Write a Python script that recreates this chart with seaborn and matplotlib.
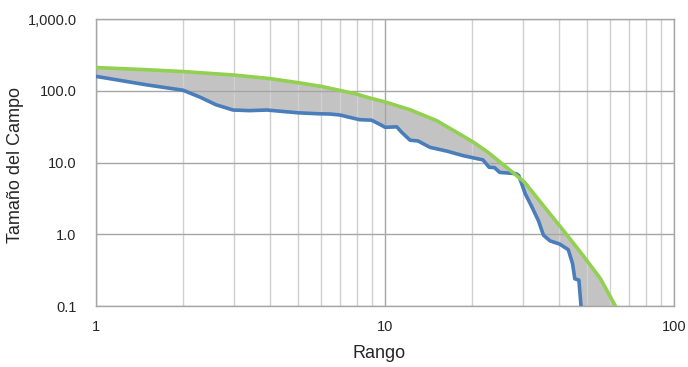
import seaborn as sns
import pandas as pd
import matplotlib.pyplot as plt
from matplotlib.ticker import NullFormatter

# Datos (rango vs tamaño del campo)
rank_green = [1, 1.5, 2.03, 3, 4, 5, 6.04, 7.08, 7.98, 8.8, 10, 12.2, 15.1, 18.1, 20.3, 22.7,
              26.3, 30.4, 35.3, 41.6, 48.5, 55.6, 62.6]
size_green = [211, 197, 185, 166, 148, 130, 115, 100, 90, 80, 70, 54.5, 38.3, 25, 19, 13.9,
              8.6, 5.3, 2.5, 1.1, 0.5, 0.24, 0.1]

rank_blue = [1, 1.5, 2, 2.3, 2.6, 2.98, 3.4, 3.9, 5.0, 5.8, 6.45, 7.0, 7.37, 8.17, 8.98, 9.6,
             10.0, 10.97, 11.4, 12.2, 13.0, 14.3, 16.4, 18.6, 21.8, 22.9, 23.9, 24.9, 28.4,
             29.0, 30.5, 32.2, 33.9, 35.3, 37.2, 40.2, 43.0, 44.5, 45.3, 46.8, 47.6]
size_blue = [159, 121, 102, 81, 64, 54, 53, 54, 49.4, 48, 47.5, 46, 43.6, 39.6, 39, 34,
             31, 31.5, 26.5, 20.5, 20, 16.3, 14.4, 12.5, 10.9, 8.6, 8.5, 7.3, 7.0,
             6.6, 3.7, 2.4, 1.55, 0.97, 0.81, 0.73, 0.61, 0.39, 0.24, 0.23, 0.1]

yticks = [0.1, 1, 10, 100, 1000]
ytick_labels = ['0.1', '1.0', '10.0', '100.0', '1,000.0']
xticks = [1, 10, 100]
xtick_labels = ['1', '10', '100']

green = pd.DataFrame({'Rango': rank_green, 'Tamaño': size_green})
blue = pd.DataFrame({'Rango': rank_blue, 'Tamaño': size_blue})

sns.set_style("white")
plt.rcParams['font.family'] = ['Liberation Sans', 'DejaVu Sans']

fig = plt.figure(figsize=(6.88, 3.67), dpi=100)
ax = fig.add_axes([0.1395, 0.166, 0.8405, 0.782])

# área gris entre las dos curvas
ax.fill(rank_green + rank_blue[::-1], size_green + size_blue[::-1],
        color='#C3C3C3', lw=0, zorder=0.3)

sns.lineplot(data=blue, x='Rango', y='Tamaño', ax=ax, color='#4A7EBB', lw=2.6,
             estimator=None, sort=False, zorder=3)
sns.lineplot(data=green, x='Rango', y='Tamaño', ax=ax, color='#92D050', lw=2.6,
             estimator=None, sort=False, zorder=4)

ax.set_xscale('log')
ax.set_yscale('log')
ax.set_xlim(1, 100)
ax.set_ylim(0.1, 1000)

ax.set_yticks(yticks, ytick_labels)
ax.set_xticks(xticks, xtick_labels)
ax.xaxis.set_minor_formatter(NullFormatter())
ax.yaxis.set_minor_formatter(NullFormatter())
ax.tick_params(which='both', length=0, labelsize=10.5, labelcolor='#262626')
ax.tick_params(axis='y', pad=14)
ax.tick_params(axis='x', pad=10)

ax.set_axisbelow(True)
ax.grid(which='major', axis='both', color='#A6A6A6', lw=1)
ax.xaxis.grid(which='minor', color='#D0D0D0', lw=1)
ax.yaxis.grid(which='minor', visible=False)
for s in ax.spines.values():
    s.set_color('#A6A6A6')
    s.set_linewidth(1)

ax.set_xlabel('Rango', fontsize=13)
ax.set_ylabel('Tamaño del Campo', fontsize=13)
ax.yaxis.set_label_coords(-0.125, 0.49)
ax.xaxis.set_label_coords(0.49, -0.135)

fig.savefig('out.png', dpi=100)
